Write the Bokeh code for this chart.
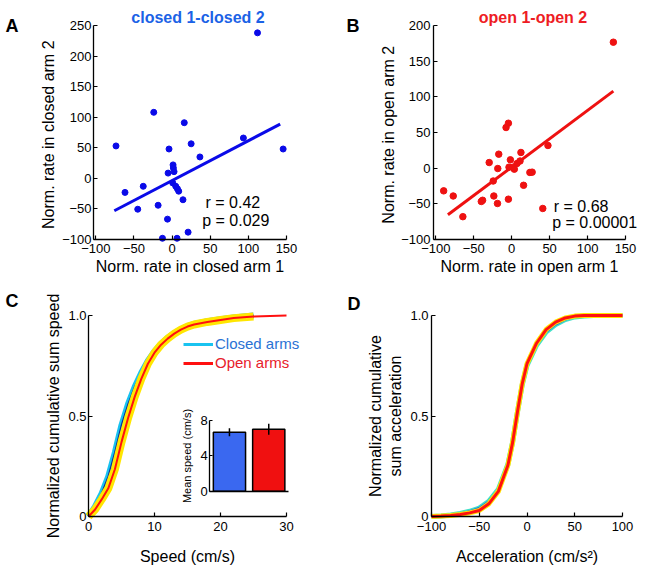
from bokeh.plotting import figure
from bokeh.layouts import column, row
from bokeh.models import Range1d, FixedTicker, LinearAxis, Label, Legend, LegendItem
from bokeh.embed import file_html
from bokeh.resources import INLINE

FONT = "Liberation Sans"

# ---------------- data ----------------
# Panel A: closed 1 vs closed 2
closed_arm1 = [112, -24, 16, -73.5, -4, 25, 93.5, 145.6, 36.5, 1.3, 1.7, 2.6, -5.2, 0.9,
               4.8, 7, 8.7, -37.8, -61.7, 14.3, -18.3, -45, -6, 21, -12.6, 6.5]
closed_arm2 = [238, 108, 91, 53, 48, 56.5, 66, 48, 35, 22, 17, 11, 8.6, -7.5,
               -13, -17, -21, -13, -23, -35, -44, -50.5, -66.7, -88, -98, -98]
closed_fit_x = [-75.7, 141.7]
closed_fit_y = [-53, 88.7]

# Panel B: open 1 vs open 2
open_arm1 = [134, -4.3, -7.4, 47.8, 12.2, -17.0, -1.7, -29.6, 7, 11, -3.5, 2, 3.5, -18.3, 24, 27,
             15.7, -24.3, -89.6, -77, -23.5, -38.3, -40, -18.7, -4.3, -64.3, 41]
open_arm2 = [176.6, 63, 57, 31.8, 22, 19.6, 11.7, 7.9, 6.5, 10, 1.4, 1.4, -1.4, -0.5, -6, -5.6,
             -24, -18, -31.8, -39, -39, -45, -46.7, -49.5, -43.5, -68, -56.5]
open_fit_x = [-84, 134]
open_fit_y = [-65.4, 108]

# Panel C: cumulative speed
speed_x = [0, 1, 2, 3, 4, 5, 6, 7, 8, 9, 10, 11, 12, 13, 14, 15, 16, 18, 20, 22, 25, 30]
speed_open = [0.0, 0.035, 0.085, 0.14, 0.235, 0.37, 0.49, 0.595, 0.685, 0.76, 0.815, 0.855,
              0.885, 0.91, 0.93, 0.945, 0.955, 0.968, 0.978, 0.987, 0.995, 1.0]
speed_closed = [0.0, 0.05, 0.115, 0.2, 0.32, 0.455, 0.56, 0.645, 0.715, 0.775, 0.822, 0.86,
                0.89, 0.913, 0.932, 0.947, 0.958, 0.972, 0.982, 0.99, 1.0]

# Inset: mean speed
bar_pos = [1, 2]
bar_mean = [6.67, 7.01]
bar_sem = [0.45, 0.62]
bar_colors = ["#3a68f0", "#f01010"]

# Panel D: cumulative acceleration
acc_x = [-100, -90, -80, -70, -60, -50, -40, -30, -20, -15, -10, -5, 0, 10, 20, 30, 40, 50,
         60, 70, 80, 90, 100]
acc_open = [0.0, 0.002, 0.005, 0.01, 0.018, 0.03, 0.063, 0.125, 0.255, 0.37, 0.52, 0.66, 0.76,
            0.862, 0.93, 0.967, 0.988, 0.997, 1.0, 1.0, 1.0, 1.0, 1.0]
acc_closed = [0.0, 0.003, 0.008, 0.015, 0.026, 0.042, 0.075, 0.135, 0.26, 0.372, 0.52, 0.655,
              0.752, 0.852, 0.918, 0.955, 0.98, 0.993, 0.998, 1.0, 1.0, 1.0, 1.0]

BLUE_PT = "#0a0ae8"
RED_PT = "#ee1111"
CYAN = "#19c3f0"
NAVY = "#0a2a9a"
YELLOW = "#ffe600"
RED = "#ff1010"


# ---------------- layout helpers ----------------
def xspan(d0, d1, p0, p1, f0, f1):
    """range whose d0..d1 falls on pixels p0..p1 of a figure spanning f0..f1"""
    s = (d1 - d0) / (p1 - p0)
    return Range1d(d0 - (p0 - f0) * s, d0 + (f1 - p0) * s)


def yspan(d0, d1, pb, pt, ft, fb):
    s = (d1 - d0) / (pb - pt)
    return Range1d(d0 - (fb - pb) * s, d0 + (pb - ft) * s)


def make_fig(width, height, xr, yr):
    p = figure(width=width, height=height, output_backend="svg", toolbar_location=None,
               x_range=xr, y_range=yr, x_axis_type=None, y_axis_type=None,
               min_border=0)
    p.outline_line_color = None
    p.background_fill_color = "white"
    p.border_fill_color = "white"
    return p


def style_axis(ax, label, ticks, overrides=None, label_size="16px", lstand=5, astand=3):
    ax.axis_label = label
    ax.ticker = FixedTicker(ticks=ticks)
    if overrides:
        ax.major_label_overrides = overrides
    ax.axis_line_width = 1.3
    ax.axis_line_color = "black"
    ax.major_tick_in = 4
    ax.major_tick_out = 0
    ax.major_tick_line_width = 1.2
    ax.major_tick_line_color = "black"
    ax.minor_tick_line_color = None
    ax.major_label_text_font = FONT
    ax.major_label_text_font_size = "13px"
    ax.major_label_text_color = "black"
    ax.major_label_standoff = lstand
    ax.axis_label_text_font = FONT
    ax.axis_label_text_font_size = label_size
    ax.axis_label_text_font_style = "normal"
    ax.axis_label_text_color = "black"
    ax.axis_label_standoff = astand


def add_axes(p, xloc, xb, xticks, xlabel, yloc, yb, yticks, ylabel, xkw, ykw):
    xa = LinearAxis(fixed_location=xloc, bounds=xb)
    style_axis(xa, xlabel, xticks, **xkw)
    p.add_layout(xa, "below")
    ya = LinearAxis(fixed_location=yloc, bounds=yb)
    style_axis(ya, ylabel, yticks, **ykw)
    p.add_layout(ya, "left")


def letter(p, txt, x, y):
    p.add_layout(Label(x=x, y=y, x_units="screen", y_units="screen", text=txt,
                       text_font=FONT, text_font_size="18px", text_font_style="bold",
                       text_baseline="alphabetic", text_color="black"))


def title(p, txt, x, y, color):
    p.add_layout(Label(x=x, y=y, x_units="screen", y_units="screen", text=txt,
                       text_font=FONT, text_font_size="16px", text_font_style="bold",
                       text_align="center", text_baseline="alphabetic", text_color=color))


def note(p, txt, x, y):
    p.add_layout(Label(x=x, y=y, text=txt, text_font=FONT, text_font_size="16px",
                       text_baseline="middle", text_align="left", text_color="black"))


W_L, W_R, H_T, H_B = 324, 320, 278, 291

# ---------------- Panel A ----------------
pA = make_fig(W_L, H_T, xspan(-103, 150, 93, 286, 0, W_L), yspan(-100, 250, 239, 25, 0, H_T))
pA.line(closed_fit_x, closed_fit_y, line_color=BLUE_PT, line_width=3)
pA.scatter(closed_arm1, closed_arm2, size=6, fill_color=BLUE_PT, line_color=BLUE_PT)
add_axes(pA, -100, (-103, 150), [-100, -50, 0, 50, 100, 150], "Norm. rate in closed arm 1",
         -103, (-100, 250), [-100, -50, 0, 50, 100, 150, 200, 250], "Norm. rate in closed  arm 2",
         dict(lstand=4, astand=2), dict(lstand=2, astand=2))
note(pA, "r = 0.42", 43.8, -39)
note(pA, "p  = 0.029", 39.5, -69)
letter(pA, "A", 5, H_T - 25)
title(pA, "closed 1-closed 2", 197.5, H_T - 17, "#1b62e6")

# ---------------- Panel B ----------------
pB = make_fig(W_R, H_T, xspan(-103, 150, 433 - 324, 625 - 324, 0, W_R),
              yspan(-100, 200, 239, 25, 0, H_T))
pB.line(open_fit_x, open_fit_y, line_color=RED_PT, line_width=3)
pB.scatter(open_arm1, open_arm2, size=6.5, fill_color=RED_PT, line_color=RED_PT)
add_axes(pB, -100, (-103, 150), [-100, -50, 0, 50, 100, 150], "Norm. rate in open arm 1",
         -103, (-100, 200), [-100, -50, 0, 50, 100, 150, 200], "Norm. rate in open  arm 2",
         dict(lstand=4, astand=2), dict(lstand=3, astand=1))
note(pB, "r = 0.68", 55.5, -53.7)
note(pB, "p  = 0.00001", 53.4, -75.7)
letter(pB, "B", 346 - 324, H_T - 25)
title(pB, "open 1-open 2", 532.5 - 324, H_T - 17, "#ee1c24")

# ---------------- Panel C ----------------
pC = make_fig(W_L, H_B, xspan(0, 30, 88, 286, 0, W_L), yspan(0, 1, 516 - 278, 315 - 278, 0, H_B))
n_closed = len(speed_closed)
leg_c = pC.line(speed_x[:n_closed], speed_closed, line_color=CYAN, line_width=3)
pC.line(speed_x[:n_closed], speed_closed, line_color=CYAN, line_width=6)
pC.line(speed_x[:n_closed], speed_closed, line_color=NAVY, line_width=1.5)
leg_o = pC.line(speed_x[:n_closed], speed_open[:n_closed], line_color=RED, line_width=3)
pC.line(speed_x[:n_closed], speed_open[:n_closed], line_color=YELLOW, line_width=8)
pC.line(speed_x, speed_open, line_color=RED, line_width=2)
add_axes(pC, 0, (0, 30), [0, 10, 20, 30], "Speed (cm/s)",
         0, (0, 1), [0, 0.5, 1], "Normalized cumulative sum speed",
         dict(lstand=5, astand=14), dict(lstand=2, astand=3, overrides={0: "0", 0.5: "0.5", 1: "1.0"}))

for r, lab, col, cy in [(leg_c, "Closed arms", "#2a72d4", 344), (leg_o, "Open arms", "#e8202a", 363)]:
    lg = Legend(items=[LegendItem(label=lab, renderers=[r])], location=(183, 569 - cy - 8),
                label_text_color=col, label_text_font=FONT, label_text_font_size="15px",
                glyph_width=30, glyph_height=16, label_height=16, padding=0, margin=0,
                spacing=0, label_standoff=2, border_line_color=None, background_fill_alpha=0)
    pC.add_layout(lg, "center")

# inset bars (own scales inside panel C)
pC.extra_x_ranges = {"ix": xspan(0.5, 2.5, 209.3, 287.9, 0, W_L)}
pC.extra_y_ranges = {"iy": yspan(0, 8, 490.7 - 278, 420 - 278, 0, H_B)}
pC.vbar(x=bar_pos, top=bar_mean, bottom=0, width=0.82, fill_color=bar_colors,
        line_color="black", line_width=1.5, x_range_name="ix", y_range_name="iy")
lo = [m - s for m, s in zip(bar_mean, bar_sem)]
hi = [m + s for m, s in zip(bar_mean, bar_sem)]
pC.segment(x0=bar_pos, y0=lo, x1=bar_pos, y1=hi, line_color="black", line_width=1.5,
           x_range_name="ix", y_range_name="iy")
iy_axis = LinearAxis(x_range_name="ix", y_range_name="iy", fixed_location=0.5, bounds=(0, 8))
style_axis(iy_axis, "Mean speed (cm/s)", [0, 4, 8], label_size="11px", lstand=2, astand=4)
iy_axis.major_tick_in = 3
pC.add_layout(iy_axis, "left")
ix_axis = LinearAxis(x_range_name="ix", y_range_name="iy", fixed_location=0, bounds=(0.5, 2.5))
style_axis(ix_axis, "", [])
ix_axis.major_label_text_font_size = "0px"
pC.add_layout(ix_axis, "below")
letter(pC, "C", 5, 569 - 300)

# ---------------- Panel D ----------------
pD = make_fig(W_R, H_B, xspan(-100, 100, 431 - 324, 622 - 324, 0, W_R),
              yspan(0, 1, 516 - 278, 315 - 278, 0, H_B))
pD.line(acc_x, acc_closed, line_color="#40e0c8", line_width=5)
pD.line(acc_x, acc_closed, line_color="#1050ff", line_width=2)
pD.line(acc_x, acc_open, line_color=YELLOW, line_width=5)
pD.line(acc_x, acc_open, line_color=RED, line_width=3)
add_axes(pD, 0, (-100, 100), [-100, -50, 0, 50, 100], "Acceleration (cm/s²)",
         -100, (0, 1), [0, 0.5, 1], "Normalized cumulative\nsum acceleration",
         dict(lstand=5, astand=14), dict(lstand=3, astand=3, overrides={0: "0", 0.5: "0.5", 1: "1.0"}))
letter(pD, "D", 347 - 324, 569 - 303)

layout = column(row(pA, pB), row(pC, pD))
open("out.html", "w").write(file_html(layout, INLINE))
